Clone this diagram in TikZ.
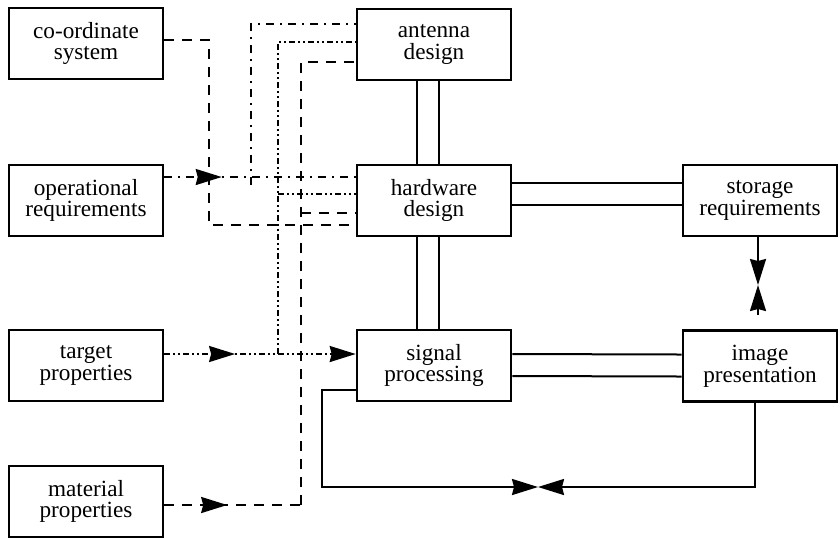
\documentclass[tikz,border=0pt]{standalone}
\usepackage{fontspec}
\setmainfont{Liberation Serif}
\usetikzlibrary{arrows.meta, decorations.markings}
\tikzset{
  blk/.style={draw, line width=1.3pt, minimum width=77pt, minimum height=35.5pt,
    align=center, inner sep=2pt, font=\fontsize{11.6}{10.8}\selectfont},
  link/.style={line width=1pt},
  headto/.style={-{Stealth[length=13pt, width=8pt, inset=1pt]}},
  midtip/.style={postaction={decorate, solid}, decoration={markings,
    mark=at position #1 with {\arrow{Stealth[length=13pt, width=8pt, inset=1pt]}}}},
  opline/.style={link, dash pattern=on 4pt off 3pt on 1pt off 3pt},
  tgline/.style={link, dash pattern=on 3pt off 1.5pt on 1pt off 1.5pt on 1pt off 1.5pt},
  matline/.style={link, dash pattern=on 5pt off 4pt},
}

\begin{document}
\begin{tikzpicture}[x=0.5pt, y=-0.5pt]
\useasboundingbox (0,0) rectangle (840,538);

% ── Inputs (left column) ────────────────────────────────────
\node[blk] (cs)  at (86, 43.5)  {co-ordinate\\system};
\node[blk] (op)  at (86, 200.5) {operational\\requirements};
\node[blk] (tgt) at (86, 365.5) {target\\properties};
\node[blk] (mat) at (86, 501.5) {material\\properties};

% ── Design chain (middle column) ────────────────────────────
\node[blk] (ant) at (434, 44.5)  {antenna\\design};
\node[blk] (hw)  at (434, 200.5) {hardware\\design};
\node[blk] (sig) at (434, 365.5) {signal\\processing};

% ── Output (right column) ───────────────────────────────────
\node[blk] (sto) at (760, 200.5) {storage\\requirements};
\node[blk] (img) at (760, 366)   {image\\presentation};

% ── Entry points on the design boxes ────────────────────────
\coordinate (antop)  at ([yshift=10.25pt]ant.west);
\coordinate (anttg)  at ([yshift=1.25pt]ant.west);
\coordinate (antmat) at ([yshift=-8.75pt]ant.west);
\coordinate (hwtg)   at ([yshift=3.25pt]hw.west);
\coordinate (hwmat)  at ([yshift=-6.25pt]hw.west);
\coordinate (hwcs)   at ([yshift=-12.25pt]hw.west);

% ── Junctions ───────────────────────────────────────────────
\coordinate (opdrop)  at (251, 185);
\coordinate (tgjoin)  at (278, 354);
\coordinate (matjoin) at (301, 505);
\coordinate (csdrop)  at (209, 225);

% ── Requirement lines ───────────────────────────────────────
\draw[opline, midtip=0.3] ([yshift=11.75pt]op.east) -- ([yshift=11.75pt]hw.west);
\draw[opline] (opdrop) |- (antop);

\draw[tgline, headto, midtip=0.37] ([yshift=5.75pt]tgt.east) -- ([yshift=5.75pt]sig.west);
\draw[tgline] (tgjoin) |- (anttg);
\draw[tgline] (hwtg -| tgjoin) -- (hwtg);

\draw[matline, midtip=0.46] ([yshift=-1.75pt]mat.east) -- (matjoin);
\draw[matline] (matjoin) |- (antmat);
\draw[matline] (hwmat -| matjoin) -- (hwmat);

\draw[matline] ([yshift=1.75pt]cs.east) -| (csdrop) -- (hwcs);

% ── Double links ────────────────────────────────────────────
\foreach \dx in {-8.5pt, 2.5pt} {
  \draw[link] ([xshift=\dx]ant.south) -- ([xshift=\dx]hw.north);
  \draw[link] ([xshift=\dx]hw.south) -- ([xshift=\dx]sig.north);
}
\foreach \dy in {8.75pt, -2.25pt}
  \draw[link] ([yshift=\dy]hw.east) -- ([yshift=\dy]sto.west);
\foreach \dy in {5.75pt, -5.25pt}
  \draw[link] ([yshift=\dy]sig.east) -- ([yshift=\dy]img.west);

% ── Feedback between outputs ────────────────────────────────
\coordinate (stmid)  at (758, 285);
\coordinate (stfoot) at (758, 315);
\draw[link, headto] ([xshift=-1pt]sto.south) -- (stmid);
\draw[link, headto] (stfoot) -- (stmid);

\coordinate (loopcorner) at (322, 487);
\coordinate (loopmid)    at (538, 487);
\draw[link, headto] ([yshift=-12.25pt]sig.west) -| (loopcorner) -- (loopmid);
\draw[link, headto] ([xshift=-2.5pt]img.south) |- (loopmid);

\end{tikzpicture}
\end{document}
